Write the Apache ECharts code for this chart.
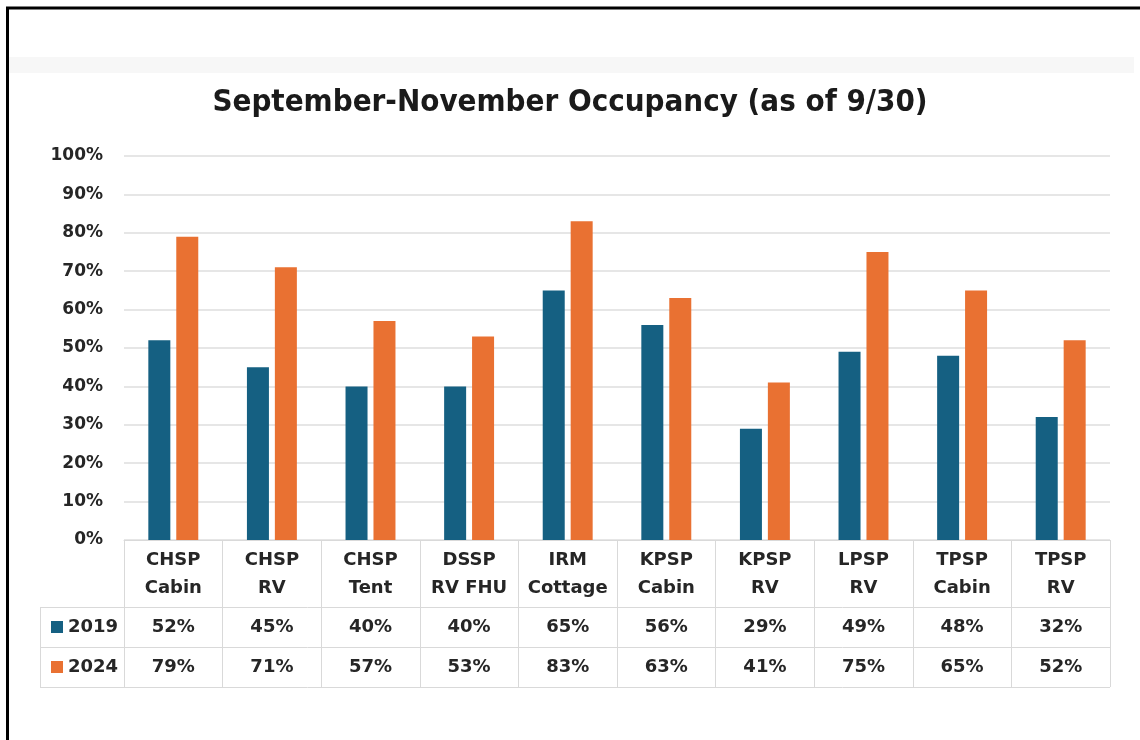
<!DOCTYPE html>
<html>
<head>
<meta charset="utf-8">
<title>September-November Occupancy</title>
<script src="https://cdn.jsdelivr.net/npm/echarts@6/dist/echarts.min.js"></script>
<style>
  html, body { margin: 0; padding: 0; background: #fff; }
  #chart { width: 1140px; height: 740px; }
</style>
</head>
<body>
<div id="chart"></div>
<script>
// data
var sites = ['CHSP\nCabin', 'CHSP\nRV', 'CHSP\nTent', 'DSSP\nRV FHU', 'IRM\nCottage',
             'KPSP\nCabin', 'KPSP\nRV', 'LPSP\nRV', 'TPSP\nCabin', 'TPSP\nRV'];
var occ2019 = [52, 45, 40, 40, 65, 56, 29, 49, 48, 32];
var occ2024 = [79, 71, 57, 53, 83, 63, 41, 75, 65, 52];
var years = ['2019', '2024'];

var FONT = 'DejaVu Sans';
var ink = '#262626';
var tableLine = '#d9d9d9';

function pct (v) { return v + '%'; }

// a plain text row of the data table, drawn as a label-only axis
function rowAxis (values, margin) {
  return {
    type: 'category',
    data: values.map(pct),
    position: 'bottom',
    axisLine: { show: false },
    axisTick: { show: false },
    axisLabel: {
      interval: 0, margin: margin, lineHeight: 20,
      fontFamily: FONT, fontWeight: 'bold', fontSize: 18, color: ink
    }
  };
}

var chart = echarts.init(document.getElementById('chart'));

chart.setOption({
  animation: false,
  title: {
    text: 'September-November Occupancy (as of 9/30)',
    left: 'center',
    top: 82,
    textStyle: {
      fontFamily: '"Liberation Sans Narrow", "DejaVu Sans Condensed", sans-serif',
      fontWeight: 'bold', fontSize: 31, color: '#1a1a1a'
    }
  },
  legend: {
    data: years,
    orient: 'vertical',
    left: 51,
    top: 617,
    padding: 0,
    icon: 'rect',
    itemWidth: 12,
    itemHeight: 12,
    itemGap: 20,
    selectedMode: false,
    textStyle: { fontFamily: FONT, fontWeight: 'bold', fontSize: 18, lineHeight: 20, color: ink }
  },
  grid: { left: 124, right: 30, top: 156, bottom: 200 },
  xAxis: [
    {
      type: 'category',
      data: sites,
      position: 'bottom',
      axisLine: { show: true, lineStyle: { color: tableLine, width: 1 } },
      axisTick: { show: true, interval: 0, length: 147, lineStyle: { color: tableLine, width: 1 } },
      axisLabel: {
        interval: 0, margin: 6, lineHeight: 28,
        fontFamily: FONT, fontWeight: 'bold', fontSize: 18, color: ink
      }
    },
    rowAxis(occ2019, 77),
    rowAxis(occ2024, 117)
  ],
  yAxis: {
    type: 'value',
    min: 0,
    max: 100,
    interval: 10,
    axisLine: { show: false },
    axisTick: { show: false },
    axisLabel: {
      formatter: '{value}%', margin: 21,
      fontFamily: FONT, fontWeight: 'bold', fontSize: 17, color: ink
    },
    splitLine: { lineStyle: { color: '#dedede', width: 1.5 } }
  },
  series: [
    {
      name: '2019', type: 'bar', data: occ2019,
      barWidth: 22, barGap: '27%',
      itemStyle: { color: '#156082' }
    },
    {
      name: '2024', type: 'bar', data: occ2024,
      barWidth: 22, barGap: '27%',
      itemStyle: { color: '#E97132' }
    }
  ],
  graphic: [
    // faint band near the top and the black frame
    { type: 'rect', shape: { x: 9, y: 57, width: 1125, height: 16 }, style: { fill: '#f7f7f7' }, silent: true },
    { type: 'line', shape: { x1: 6, y1: 8, x2: 1140, y2: 8 }, style: { stroke: '#000', lineWidth: 3 } },
    { type: 'line', shape: { x1: 7.5, y1: 7, x2: 7.5, y2: 740 }, style: { stroke: '#000', lineWidth: 3 } },
    // data table rules
    { type: 'line', shape: { x1: 40, y1: 607.5, x2: 1110, y2: 607.5 }, style: { stroke: tableLine, lineWidth: 1 } },
    { type: 'line', shape: { x1: 40, y1: 647.5, x2: 1110, y2: 647.5 }, style: { stroke: tableLine, lineWidth: 1 } },
    { type: 'line', shape: { x1: 40, y1: 687.5, x2: 1110, y2: 687.5 }, style: { stroke: tableLine, lineWidth: 1 } },
    { type: 'line', shape: { x1: 40.5, y1: 607, x2: 40.5, y2: 688 }, style: { stroke: tableLine, lineWidth: 1 } }
  ]
});
</script>
</body>
</html>
